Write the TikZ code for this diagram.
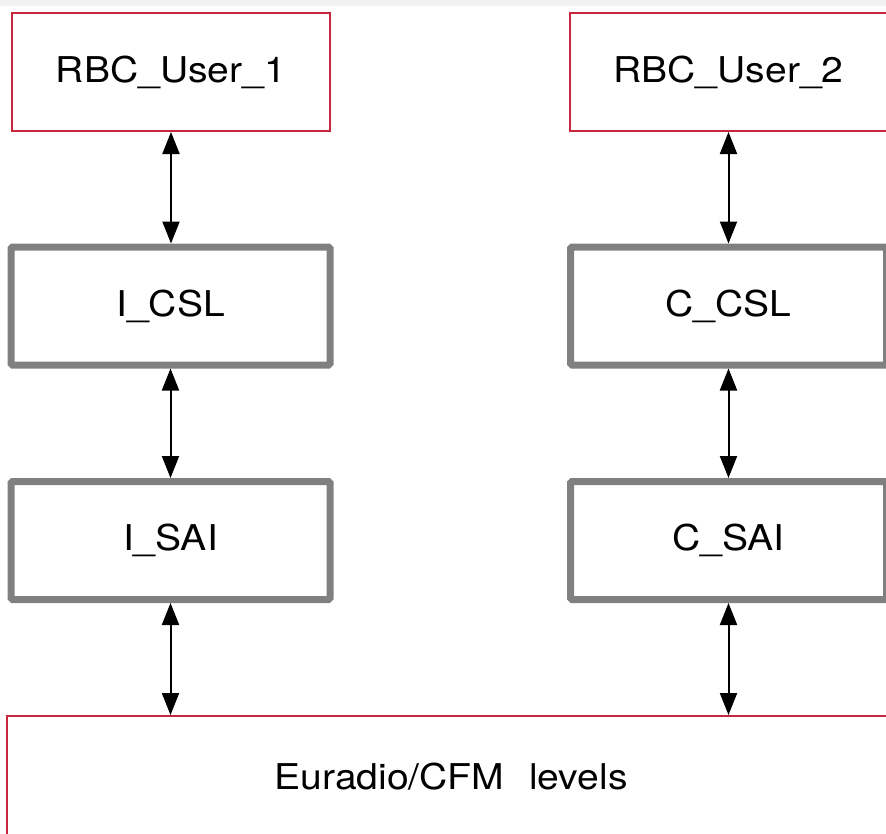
\documentclass[tikz,border=0pt]{standalone}
\usepackage{fontspec}
\setmainfont[FakeStretch=1.1]{TeX Gyre Heros}
\usetikzlibrary{arrows.meta}
\definecolor{boxred}{HTML}{C8283E}
\definecolor{boxgray}{HTML}{808080}
\definecolor{stripgray}{HTML}{F1F2F4}

\tikzset{
  label font/.style={font=\fontsize{35.5}{40}\selectfont},
  userbox/.style={draw=boxred, line width=2pt, fill=white, inner sep=0pt,
    minimum width=318pt, minimum height=118pt, label font},
  layerbox/.style={draw=boxgray, line width=7pt, rounded corners=1.5pt,
    fill=white, inner sep=0pt, minimum width=319pt, minimum height=118pt,
    label font},
  link/.style={{Triangle[width=17pt,length=22pt]}-{Triangle[width=17pt,length=22pt]},
    line width=2pt, black},
}

\begin{document}
\begin{tikzpicture}[x=1pt, y=-1pt]
  \useasboundingbox (0,0) rectangle (886,833);
  \clip (0,0) rectangle (886,833);
  \fill[white] (0,0) rectangle (886,833);
  \fill[stripgray] (0,0) rectangle (886,6);

  % upper users
  \node[userbox] (u1) at (171,72) {RBC\_User\_1};
  \node[userbox] (u2) at (728.5,72) {RBC\_User\_2};

  % CSL layer
  \node[layerbox] (icsl) at (170.5,306) {I\_CSL};
  \node[layerbox, minimum width=316pt] (ccsl) at (728.5,306) {C\_CSL};

  % SAI layer
  \node[layerbox] (isai) at (170.5,540.5) {I\_SAI};
  \node[layerbox, minimum width=316pt] (csai) at (728.5,540.5) {C\_SAI};

  % radio levels
  \node[userbox, minimum width=888pt, minimum height=122pt] (radio) at (451,777)
    {Euradio/CFM\hspace{0.7em}levels};

  % links
  \draw[link] (u1.south) -- (u1.south |- icsl.north);
  \draw[link] (u2.south) -- (u2.south |- ccsl.north);
  \draw[link] (icsl.south) -- (isai.north);
  \draw[link] (ccsl.south) -- (csai.north);
  \draw[link] (isai.south) -- (isai.south |- radio.north);
  \draw[link] (csai.south) -- (csai.south |- radio.north);
\end{tikzpicture}
\end{document}
